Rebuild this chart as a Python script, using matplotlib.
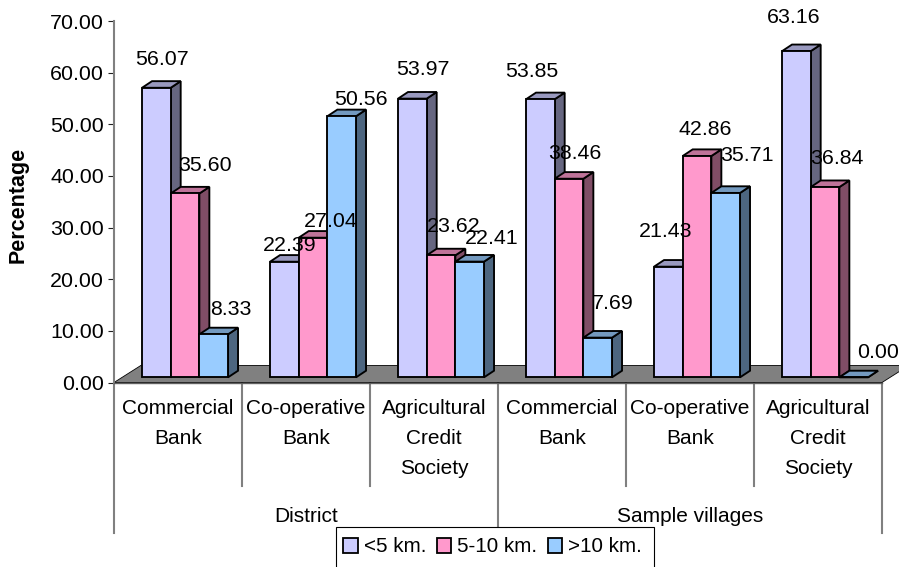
import matplotlib
matplotlib.use("Agg")
import matplotlib.pyplot as plt
from matplotlib.patches import Polygon, Patch, Rectangle
import numpy as np

plt.rcParams['font.family'] = ['Liberation Sans', 'DejaVu Sans']

# values
categories = ["Commercial\nBank", "Co-operative\nBank", "Agricultural\nCredit\nSociety",
              "Commercial\nBank", "Co-operative\nBank", "Agricultural\nCredit\nSociety"]
groups = ["District", "Sample villages"]
series_names = ["<5 km.", "5-10 km.", ">10 km."]
near = [56.07, 22.39, 53.97, 53.85, 21.43, 63.16]
middle = [35.60, 27.04, 23.62, 38.46, 42.86, 36.84]
far = [8.33, 50.56, 22.41, 7.69, 35.71, 0.00]
y_ticks = [0, 10, 20, 30, 40, 50, 60, 70]

colors = ["#CCCCFF", "#FF99CC", "#99CCFF"]

# label offsets from the bar top centre, in pixels (x, up)
near_off = [(6, 28), (5, 16), (11, 29), (-9, 28), (-3, 35), (-3, 34)]
middle_off = [(20, 28), (18, 16), (13, 29), (6, 25), (8, 26), (12, 29)]
far_off = [(17, 25), (19, 17), (22, 23), (15, 34), (21, 37), (24, 25)]

FS = 15.4
bar_w = 0.224
bar_start = 0.219
dx, dy = 0.078, 1.28    # depth of a bar
floor_dx, floor_dy = 0.21, 3.3
base = 1.0


def shade(c, f):
    rgb = np.array(matplotlib.colors.to_rgb(c))
    return tuple(rgb * f)


def draw_bar(ax, x, v, color):
    top = base + v
    side = [(x + bar_w, base), (x + bar_w + dx, base + dy), (x + bar_w + dx, top + dy), (x + bar_w, top)]
    roof = [(x, top), (x + dx, top + dy), (x + bar_w + dx, top + dy), (x + bar_w, top)]
    front = [(x, base), (x + bar_w, base), (x + bar_w, top), (x, top)]
    ec = dict(edgecolor="black", linewidth=1.35, joinstyle="miter", clip_on=False, zorder=3)
    ax.add_patch(Polygon(side, facecolor=shade(color, 0.5), **ec))
    ax.add_patch(Polygon(roof, facecolor=shade(color, 0.75), **ec))
    ax.add_patch(Polygon(front, facecolor=color, **ec))


fig = plt.figure(figsize=(8.99, 5.67), dpi=100)
ax = fig.add_axes([114 / 899, 1 - 382.5 / 567, 768 / 899, 361.5 / 567])
ax.set_xlim(0, 6)
ax.set_ylim(0, 70)

# floor
floor = [(0, 0), (6, 0), (6 + floor_dx, floor_dy), (floor_dx, floor_dy)]
ax.add_patch(Polygon(floor, facecolor="#808080", edgecolor="black", linewidth=0.6, clip_on=False, zorder=2))

for i in range(len(categories)):
    for j, (vals, offs) in enumerate(zip([near, middle, far], [near_off, middle_off, far_off])):
        x = i + bar_start + j * bar_w
        draw_bar(ax, x, vals[i], colors[j])
        ax.annotate("%.2f" % vals[i], (x + bar_w / 2, base + vals[i]), xytext=offs[i],
                    textcoords="offset pixels", ha="center", va="center", fontsize=FS,
                    color="black", zorder=5, annotation_clip=False)

ax.set_yticks(y_ticks)
ax.set_yticklabels(["%.2f" % t for t in y_ticks], fontsize=FS)
ax.tick_params(axis="y", length=4.3, width=0.8, pad=2.9, color="#202020")
ax.set_xticks([])
for s in ["top", "right"]:
    ax.spines[s].set_visible(False)
ax.spines["left"].set_color("#808080")
ax.spines["left"].set_linewidth(1.5)
ax.spines["bottom"].set_color("#606060")
ax.spines["bottom"].set_linewidth(1.0)
ax.spines["bottom"].set_zorder(4)

ax.text(18.5 / 899, 1 - 205 / 567, "Percentage", transform=fig.transFigure, rotation=90, fontsize=15.5,
        fontweight="bold", ha="center", va="center")

# two level category axis
tr = ax.get_xaxis_transform()
for i in range(len(categories) + 1):
    low = -0.417 if i % 3 == 0 else -0.286
    ax.plot([i, i], [0, low], transform=tr, color="#808080", lw=1.5, clip_on=False, zorder=1)
for i, name in enumerate(categories):
    ax.text(i + 0.5, -0.047, name, transform=tr, ha="center", va="top", fontsize=FS - 0.4, linespacing=1.73)
for i, name in enumerate(groups):
    ax.text(3 * i + 1.5, -0.371, name, transform=tr, ha="center", va="center", fontsize=FS - 0.4)

# legend box runs off the bottom of the picture
fig.add_artist(Rectangle((336 / 899, -0.02), 318 / 899, 1 - 527 / 567 + 0.02, transform=fig.transFigure,
                         facecolor="white", edgecolor="black", linewidth=0.8, zorder=6))
handles = [Patch(facecolor=c, edgecolor="black", linewidth=1.3) for c in colors]
leg = fig.legend(handles, series_names, ncol=3, loc="center left", bbox_to_anchor=(339 / 899, 1 - 547 / 567),
                 fontsize=FS - 0.5, handlelength=0.7, handleheight=0.7, handletextpad=0.3,
                 columnspacing=0.5, borderaxespad=0, borderpad=0.2, frameon=False)
leg.set_zorder(7)

fig.savefig("out.png", dpi=100)
